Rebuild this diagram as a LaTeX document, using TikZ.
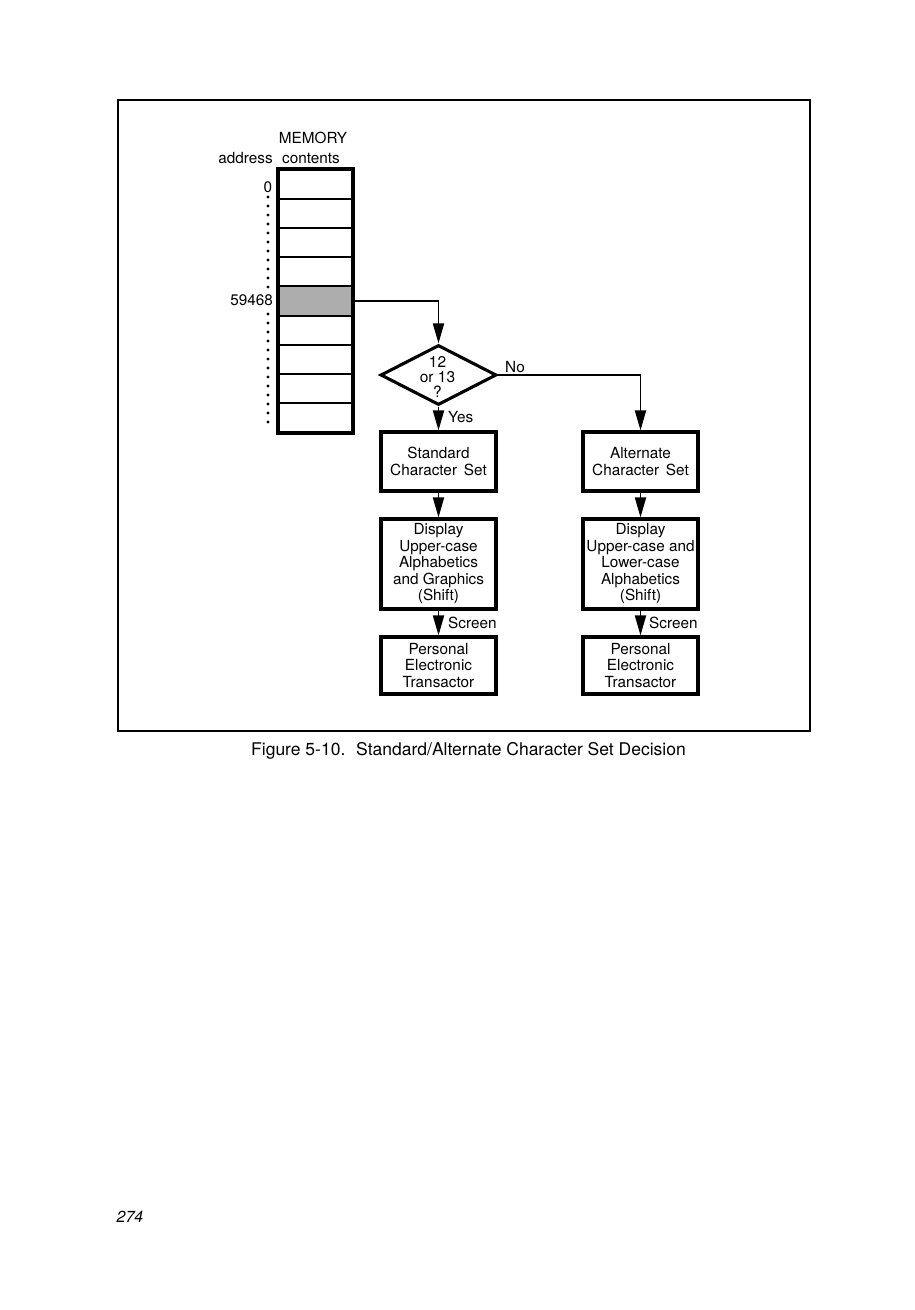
\documentclass[tikz,border=0pt]{standalone}
\usepackage{fontspec}
\setmainfont{TeX Gyre Heros}
\usetikzlibrary{shapes.geometric,arrows.meta}
\begin{document}
\begin{tikzpicture}[x=1pt,y=-1pt,
  box/.style={draw, line width=3.1pt, minimum width=115pt, inner sep=0pt, align=center,
    font=\fontsize{15.3}{16.5}\selectfont},
  cell/.style={draw, line width=2pt, minimum width=73pt, minimum height=29.1pt, inner sep=0pt},
  arr/.style={line width=1.8pt, -{Triangle[length=20pt,width=11pt]}},
  lbl/.style={font=\fontsize{15.3}{16}\selectfont, inner sep=0pt},
  dot/.style={circle, fill, inner sep=0pt, minimum size=3.2pt}]
\useasboundingbox (0,0) rectangle (914,1310);
\fill[white] (0,0) rectangle (914,1310);
% frame
\draw[line width=1.7pt] (118,100) rectangle (810,731);
% memory labels
\node[lbl, anchor=base] (memt) at (313,143) {MEMORY};
\node[lbl, anchor=base] (addr) at (245.5,163) {address};
\node[lbl, anchor=base] (cont) at (311,163) {contents};
% memory cells
\foreach \i in {1,...,9} {
  \node[cell] (m\i) at (315.5,{170+29.11*(\i-0.5)}) {};
}
\node[cell, fill=black!32] (m5) at (315.5,{170+29.11*4.5}) {};
\draw[line width=3.2pt] (m1.north west) rectangle (m9.south east);
% address dots and labels
\node[lbl, anchor=base] (a0) at (268,192) {0};
\node[lbl, anchor=base east] (a1) at (273,305) {59468};
\foreach \y in {197,206,...,287} { \node[dot] at (268,\y) {}; }
\foreach \y in {314,323,...,422} { \node[dot] at (268,\y) {}; }
% decision
\node[diamond, draw, line width=3.1pt, minimum width=116pt, minimum height=60pt, inner sep=0pt] (dec) at (438.5,375) {};
\node[lbl, align=center, font=\fontsize{15.5}{15}\selectfont] (dect) at (437.5,377) {12\\or 13\\?};
% boxes
\node[box, minimum height=59pt] (std) at (438.5,461.5) {Standard\\Character\hspace{0.45em}Set};
\node[box, minimum height=59pt] (alt) at (640.5,461.5) {Alternate\\Character\hspace{0.45em}Set};
\node[box, minimum height=90pt] (d1) at (438.5,564) {Display\\Upper-case\\Alphabetics\\and Graphics\\(Shift)};
\node[box, minimum height=90pt] (d2) at (640.5,564) {Display\\Upper-case and\\Lower-case\\Alphabetics\\(Shift)};
\node[box, minimum height=57pt] (p1) at (438.5,665.5) {Personal\\Electronic\\Transactor};
\node[box, minimum height=57pt] (p2) at (640.5,665.5) {Personal\\Electronic\\Transactor};
% connectors
\draw[arr] (m5.east) -| (dec.north);
\draw[arr] (dec.east) -| (alt.north);
\draw[arr] (dec.south) -- (std.north);
\draw[arr] (std.south) -- (d1.north);
\draw[arr] (alt.south) -- (d2.north);
\draw[arr] (d1.south) -- (p1.north);
\draw[arr] (d2.south) -- (p2.north);
% connector labels
\node[lbl, anchor=west] (yes) at (448,417) {Yes};
\node[lbl, anchor=west] (no) at (505,367) {No};
\node[lbl, anchor=west] (s1) at (448,623) {Screen};
\node[lbl, anchor=west] (s2) at (649,623) {Screen};
% caption
\node[font=\fontsize{17.5}{20}\selectfont, inner sep=0pt] (cap) at (468.5,751) {Figure 5-10.\hspace{0.25em} Standard/Alternate Character Set Decision};
\node[font=\fontsize{16}{18}\itshape, inner sep=0pt] (page) at (130,1217) {274};
\end{tikzpicture}
\end{document}
